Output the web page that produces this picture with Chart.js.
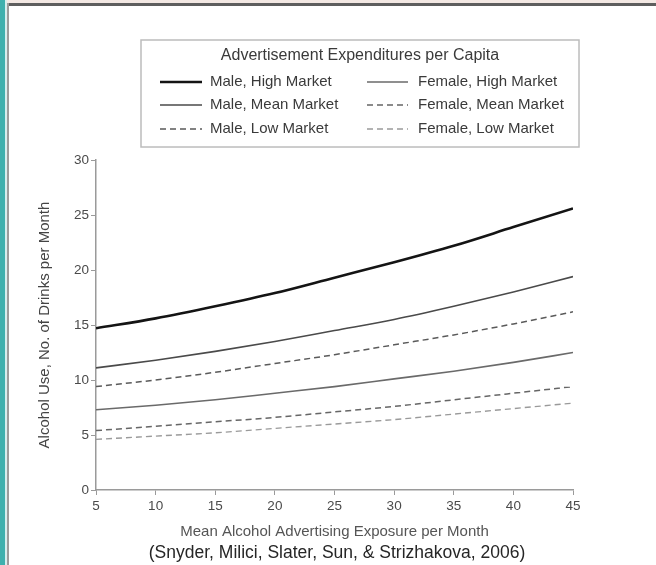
<!DOCTYPE html>
<html>
<head>
<meta charset="utf-8">
<script src="https://cdn.jsdelivr.net/npm/chart.js@4/dist/chart.umd.min.js"></script>
<style>
  html, body { margin: 0; padding: 0; background: #ffffff; }
  #wrap { position: relative; width: 656px; height: 565px; overflow: hidden; }
  canvas { position: absolute; left: 0; top: 0; }
  .frame { position: absolute; pointer-events: none; }
</style>
</head>
<body>
<div id="wrap">
  <canvas id="chart" width="656" height="565"></canvas>
  <div class="frame" style="left:0;top:0;width:656px;height:3px;background:#f3e8e3;"></div>
  <div class="frame" style="left:6px;top:3px;width:650px;height:3px;background:#5e5e5e;"></div>
  <div class="frame" style="left:0;top:0;width:5px;height:565px;background:#3fb0ae;"></div>
  <div class="frame" style="left:5px;top:0;width:2px;height:565px;background:#d6eeee;"></div>
  <div class="frame" style="left:7px;top:3px;width:2px;height:562px;background:#9c9c9c;"></div>
</div>
<script>
// Monthly advertising exposure (x) and predicted drinks per month (y)
const exposure = [5, 10, 15, 20, 25, 30, 35, 40, 45];

const seriesNames = [
  'Male, High Market',
  'Female, High Market',
  'Male, Mean Market',
  'Female, Mean Market',
  'Male, Low Market',
  'Female, Low Market'
];

const maleHigh     = [14.7, 15.6, 16.7, 17.9, 19.3, 20.7, 22.2, 23.9, 25.6];
const femaleHigh   = [7.3, 7.7, 8.2, 8.8, 9.4, 10.1, 10.8, 11.6, 12.5];
const maleMean     = [11.1, 11.8, 12.6, 13.5, 14.5, 15.5, 16.7, 18.0, 19.4];
const femaleMean   = [5.4, 5.8, 6.2, 6.6, 7.1, 7.6, 8.2, 8.8, 9.4];
const maleLow      = [9.4, 10.0, 10.7, 11.5, 12.3, 13.2, 14.1, 15.1, 16.2];
const femaleLow    = [4.6, 4.9, 5.2, 5.6, 6.0, 6.4, 6.9, 7.4, 7.9];

const yTicks = [0, 5, 10, 15, 20, 25, 30];
const xTicks = [5, 10, 15, 20, 25, 30, 35, 40, 45];

const legendTitle = 'Advertisement Expenditures per Capita';
const xTitle = 'Mean Alcohol Advertising Exposure per Month';
const yTitle = 'Alcohol Use, No. of Drinks per Month';
const citation = '(Snyder, Milici, Slater, Sun, & Strizhakova, 2006)';

const FONT = "'Liberation Sans', Arial, Helvetica, sans-serif";

const seriesValues = [maleHigh, femaleHigh, maleMean, femaleMean, maleLow, femaleLow];
const seriesStyle = [
  { color: '#141414', width: 2.6, dash: [] },
  { color: '#6a6a6a', width: 1.6, dash: [] },
  { color: '#4a4a4a', width: 1.6, dash: [] },
  { color: '#666666', width: 1.5, dash: [6, 4] },
  { color: '#5a5a5a', width: 1.5, dash: [6, 4] },
  { color: '#9a9a9a', width: 1.4, dash: [6, 4] }
];

const datasets = seriesNames.map((name, i) => ({
  label: name,
  data: exposure.map((x, j) => ({ x: x, y: seriesValues[i][j] })),
  borderColor: seriesStyle[i].color,
  borderWidth: seriesStyle[i].width,
  borderDash: seriesStyle[i].dash,
  pointRadius: 0,
  fill: false,
  cubicInterpolationMode: 'monotone'
}));

// Boxed two-column legend with a heading, drawn from the datasets,
// plus the source line under the x-axis title
const boxLegend = {
  id: 'boxLegend',
  afterDraw(chart) {
    const ctx = chart.ctx;
    const box = { left: 141, top: 40, right: 579, bottom: 147 };
    ctx.save();
    ctx.strokeStyle = '#bcbcbc';
    ctx.lineWidth = 1.5;
    ctx.strokeRect(box.left, box.top, box.right - box.left, box.bottom - box.top);

    ctx.fillStyle = '#3a3a3a';
    ctx.font = '16px ' + FONT;
    ctx.textAlign = 'center';
    ctx.textBaseline = 'middle';
    ctx.fillText(legendTitle, (box.left + box.right) / 2, 56);

    ctx.font = '15px ' + FONT;
    const rows = [82, 105, 129];
    const cols = [{ l0: 160, l1: 202, t: 210 }, { l0: 367, l1: 408, t: 418 }];
    chart.data.datasets.forEach((ds, i) => {
      const col = cols[i % 2];
      const y = rows[Math.floor(i / 2)];
      ctx.beginPath();
      ctx.strokeStyle = ds.borderColor;
      ctx.lineWidth = ds.borderWidth;
      ctx.setLineDash(ds.borderDash || []);
      ctx.moveTo(col.l0, y);
      ctx.lineTo(col.l1, y);
      ctx.stroke();
      ctx.setLineDash([]);
      ctx.fillStyle = '#3a3a3a';
      ctx.textAlign = 'left';
      ctx.fillText(ds.label, col.t, y);
    });

    ctx.font = '17.5px ' + FONT;
    ctx.fillStyle = '#262626';
    ctx.textAlign = 'center';
    ctx.fillText(citation, 337, 553);
    ctx.restore();
  }
};

new Chart(document.getElementById('chart'), {
  type: 'line',
  data: { datasets: datasets },
  plugins: [boxLegend],
  options: {
    responsive: false,
    animation: false,
    layout: { padding: { left: 8, right: 83, top: 160, bottom: 0 } },
    plugins: {
      legend: { display: false },
      tooltip: { enabled: false },
      title: { display: false }
    },
    scales: {
      x: {
        type: 'linear',
        min: 5,
        max: 45,
        afterBuildTicks(scale) { scale.ticks = xTicks.map(v => ({ value: v })); },
        afterFit(scale) { scale.height = 75; },
        grid: { drawOnChartArea: false, drawTicks: true, tickLength: 5, color: '#9a9a9a' },
        border: { display: true, color: '#9a9a9a', width: 1.5 },
        ticks: { color: '#4a4a4a', padding: 3, font: { family: FONT, size: 13.5 } },
        title: {
          display: true,
          text: xTitle,
          color: '#555555',
          font: { family: FONT, size: 15, lineHeight: 1.2 },
          padding: { top: 0, bottom: 24 }
        }
      },
      y: {
        type: 'linear',
        min: 0,
        max: 30,
        afterBuildTicks(scale) { scale.ticks = yTicks.map(v => ({ value: v })); },
        afterFit(scale) { scale.width = 88; },
        grid: { drawOnChartArea: false, drawTicks: true, tickLength: 5, color: '#9a9a9a' },
        border: { display: true, color: '#9a9a9a', width: 1.5 },
        ticks: { color: '#4a4a4a', padding: 2, font: { family: FONT, size: 13.5 } },
        title: {
          display: true,
          text: yTitle,
          color: '#444444',
          font: { family: FONT, size: 15, lineHeight: 1.2 },
          padding: { top: 28, bottom: 0 }
        }
      }
    }
  }
});
</script>
</body>
</html>
